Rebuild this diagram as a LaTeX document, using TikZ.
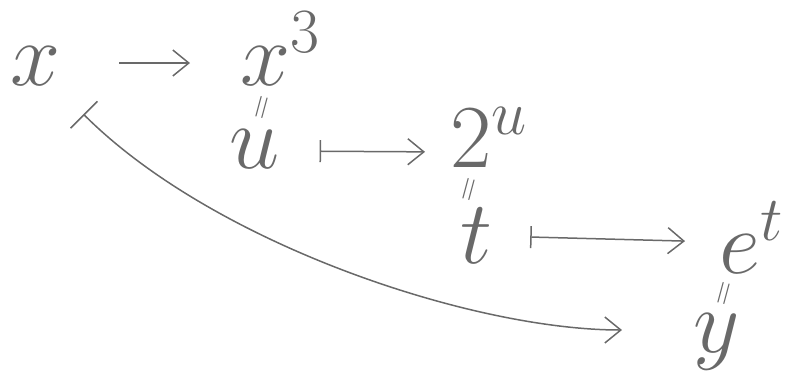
\RequirePackage{fix-cm}
\documentclass[tikz,border=0pt]{standalone}
\usepackage{amsmath}
\usetikzlibrary{arrows.meta}
\definecolor{pencilGray}{RGB}{105,105,105}

\begin{document}
\begin{tikzpicture}[
  x=1pt,y=-1pt,
  term/.style={inner sep=0pt,anchor=base west,text=pencilGray,font=\fontsize{90}{100}\selectfont},
  eqv/.style={inner sep=0pt,rotate=75,text=pencilGray,font=\fontsize{34}{38}\selectfont},
  arrow/.style={-{Straight Barb[length=16pt,width=26pt]},line width=1.5pt,draw=pencilGray},
  mapsarrow/.style={{Bar[width=22pt]}-{Straight Barb[length=16pt,width=26pt]},line width=1.5pt,draw=pencilGray}
]
  \useasboundingbox (0,0) rectangle (801,373);

  \node[term] (x) at (10,85) {$x$};
  \node[term] (xc) at (240,85) {$x^3$};
  \node[eqv] (eqA) at (264,108) {$=$};
  \node[term] (u) at (229,168) {$u$};
  \node[term] (twou) at (450,167) {$2^u$};
  \node[eqv] (eqB) at (471,190) {$=$};
  \node[term] (t) at (460,263) {$t$};
  \node[term] (et) at (719,273) {$e^t$};
  \node[eqv] (eqC) at (726,294) {$=$};
  \node[term] (y) at (693,352) {$y$};

  \draw[arrow,shorten <=59pt,shorten >=50pt] ([yshift=22pt]x.base east) -- ([yshift=22pt]xc.base west);
  \draw[mapsarrow,shorten <=40pt,shorten >=25pt] ([yshift=17pt]u.base east) -- ([yshift=15pt]twou.base west);
  \draw[mapsarrow,shorten <=38pt,shorten >=34pt] ([yshift=27pt]t.base east) -- ([yshift=31pt]et.base west);
  % long arrow straight from x to y
  \draw[mapsarrow,{Bar[width=38pt]}-{Straight Barb[length=16pt,width=26pt]},shorten >=71pt]
    ([shift={(23,29)}]x.south east) .. controls +(130,130) and +(-221,0) .. ([yshift=22pt]y.base west);
\end{tikzpicture}
\end{document}
